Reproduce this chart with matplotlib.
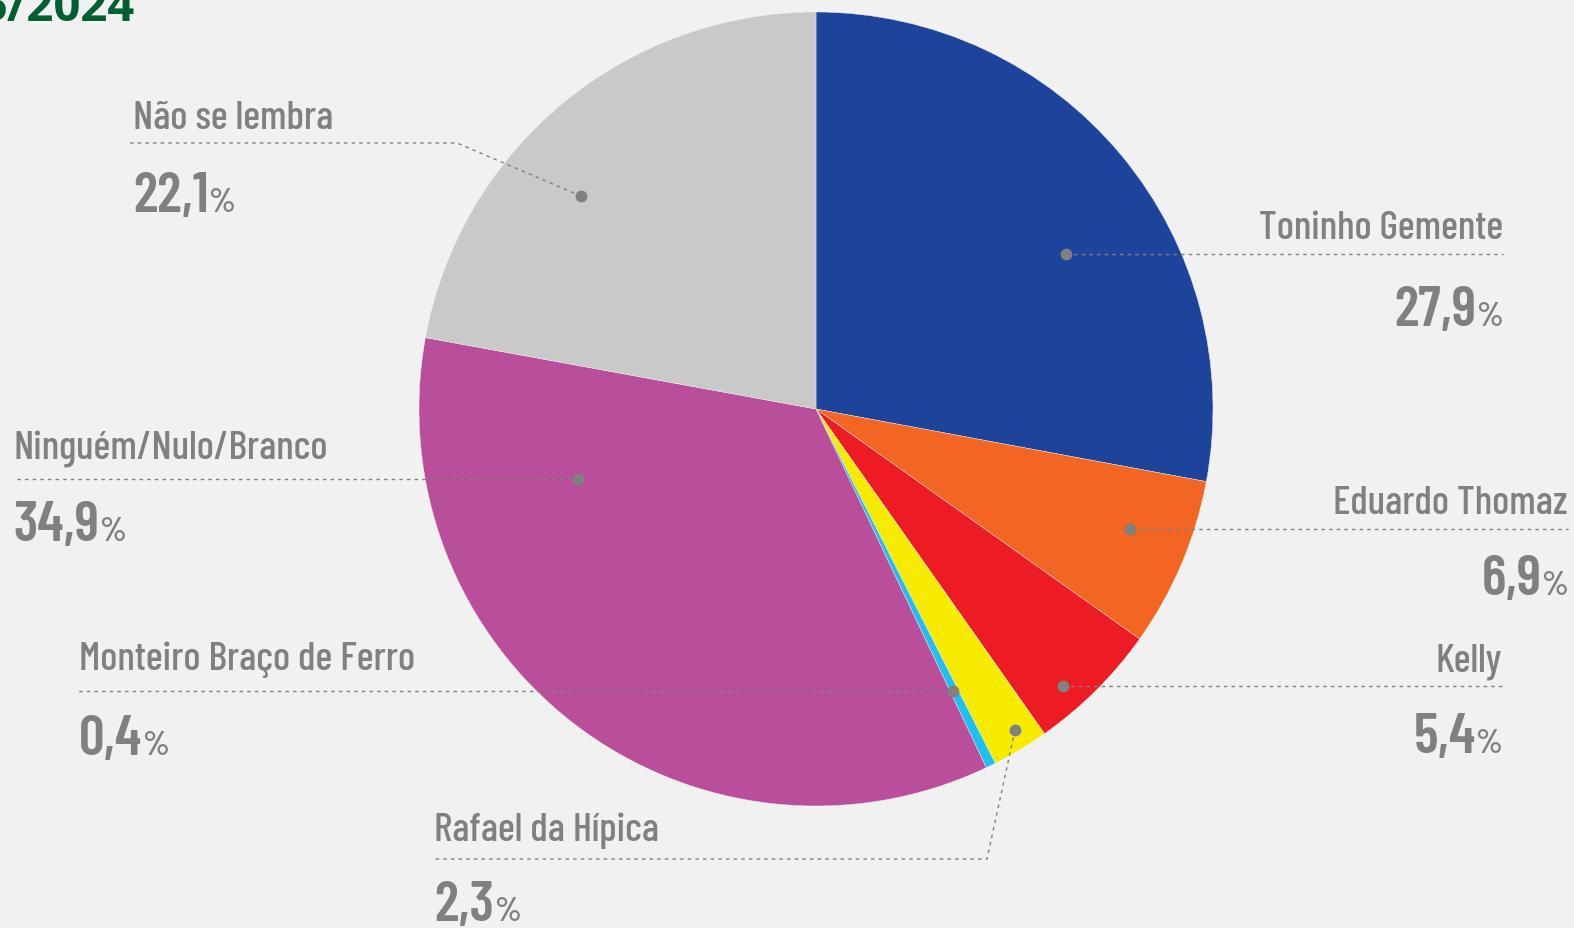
import matplotlib
matplotlib.use("Agg")
import matplotlib.pyplot as plt

# ---- data ----
labels = ["Toninho Gemente", "Eduardo Thomaz", "Kelly", "Rafael da Hípica",
          "Monteiro Braço de Ferro", "Ninguém/Nulo/Branco", "Não se lembra"]
values = [27.9, 6.9, 5.4, 2.3, 0.4, 34.9, 22.1]
value_texts = ["27,9", "6,9", "5,4", "2,3", "0,4", "34,9", "22,1"]
colors = ["#1d439b", "#f26522", "#ed1c24", "#f7ec00", "#1fc0ef", "#b94f9b", "#c9c9c9"]
title_text = "5/2024"

W, H = 1574, 929
BG = "#f1f1f1"
GRAY = "#808080"
FONT = ["Barlow Condensed", "Roboto Condensed", "Oswald", "DejaVu Sans"]

fig = plt.figure(figsize=(W / 100, H / 100), dpi=100, facecolor=BG)
ax = fig.add_axes([0, 0, 1, 1])
ax.set_facecolor(BG)

def Y(y):
    return H - y

cx, cy, R = 816, 410, 397
ax.pie(values, colors=colors, startangle=90, counterclock=False,
       center=(cx, Y(cy)), radius=R,
       wedgeprops=dict(linewidth=0.3, edgecolor="#f0f0f0"))
ax.set_xlim(0, W)
ax.set_ylim(0, H)
ax.set_aspect("equal", adjustable="box")
ax.axis("off")

layout = [
    dict(dot=(1066, 255), path=[(1503, 255)], x=1503, ha="right", nb=239, vb=326),
    dict(dot=(1130, 530), path=[(1568, 530)], x=1568, ha="right", nb=514, vb=595),
    dict(dot=(1063, 687), path=[(1502, 687)], x=1502, ha="right", nb=671, vb=753),
    dict(dot=(1015, 731), path=[(987, 860), (434, 860)], x=434, ha="left", nb=841, vb=921),
    dict(dot=(953, 692), path=[(78, 692)], x=79, ha="left", nb=670, vb=755),
    dict(dot=(578, 480), path=[(13, 480)], x=13, ha="left", nb=459, vb=541),
    dict(dot=(581, 197), path=[(457, 144), (130, 144)], x=133, ha="left", nb=129, vb=212),
]

renderer = fig.canvas.get_renderer()
NAME_SIZE = 29
VAL_SIZE = 41
PCT_SIZE = 25

for lab, vt, L in zip(labels, value_texts, layout):
    pts = [L["dot"]] + L["path"]
    ax.plot([p[0] for p in pts], [Y(p[1]) for p in pts], color=GRAY, lw=1.0,
            linestyle=(0, (2.5, 3.0)), zorder=3)
    ax.plot([L["dot"][0]], [Y(L["dot"][1])], "o", color=GRAY, ms=8.5, mec="none", zorder=4)
    ax.text(L["x"], Y(L["nb"]), lab, ha=L["ha"], va="baseline", color=GRAY,
            fontsize=NAME_SIZE, family=FONT, fontweight="medium")
    if L["ha"] == "left":
        t = ax.text(L["x"], Y(L["vb"]), vt, ha="left", va="baseline", color=GRAY,
                    fontsize=VAL_SIZE, family=FONT, fontweight="semibold")
        w = t.get_window_extent(renderer).width
        ax.text(L["x"] + w, Y(L["vb"]), "%", ha="left", va="baseline", color=GRAY,
                fontsize=PCT_SIZE, family=FONT, fontweight="semibold")
    else:
        p = ax.text(L["x"], Y(L["vb"]), "%", ha="right", va="baseline", color=GRAY,
                    fontsize=PCT_SIZE, family=FONT, fontweight="semibold")
        w = p.get_window_extent(renderer).width
        ax.text(L["x"] - w, Y(L["vb"]), vt, ha="right", va="baseline", color=GRAY,
                fontsize=VAL_SIZE, family=FONT, fontweight="semibold")

ax.text(135, Y(21), title_text, ha="right", va="baseline", color="#005f2f",
        fontsize=34, fontweight="bold", family=["Open Sans", "DejaVu Sans"])

fig.savefig("out.png", dpi=100, facecolor=BG)
